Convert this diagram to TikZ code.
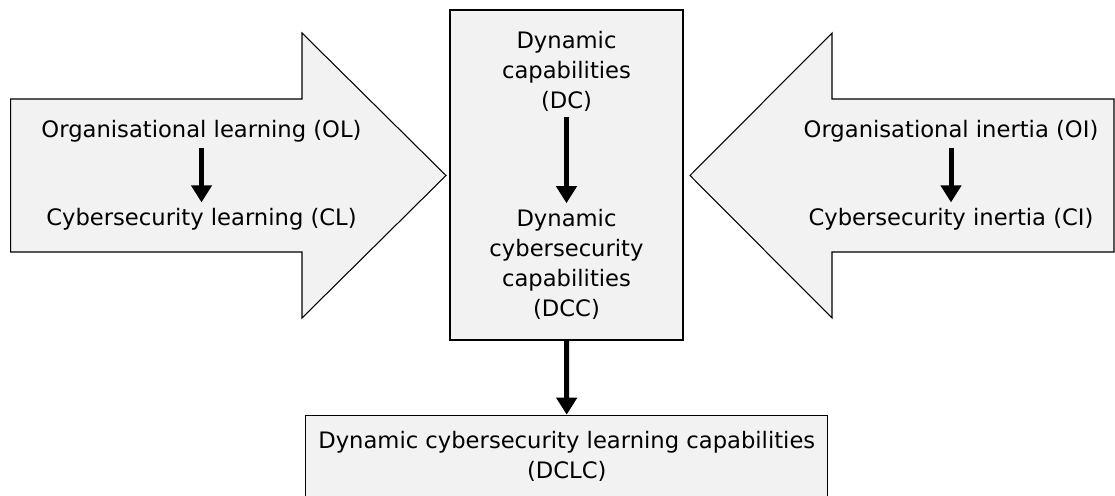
\documentclass[tikz,border=0pt]{standalone}
\usepackage{fontspec}
\setmainfont{DejaVu Sans}
\usetikzlibrary{arrows.meta}

\begin{document}
\begin{tikzpicture}[x=0.02cm, y=-0.02cm,
    txt/.style={font=\fontsize{12.9}{17.1}\selectfont, align=center, inner sep=3pt},
    flow/.style={-{Triangle[width=0.4cm, length=0.34cm]}, line width=0.1cm},
    bigarrow/.style={draw, line width=0.6pt, fill=black!5}]
    \useasboundingbox (0,0) rectangle (1115,496);
    \draw[bigarrow] (10.7,99) -- (302,99) -- (302,33) -- (446,175.5) -- (302,318) -- (302,252) -- (10.7,252) -- cycle;
    \draw[bigarrow] (1114,99) -- (832,99) -- (832,33) -- (690,175.5) -- (832,318) -- (832,252) -- (1114,252) -- cycle;
    \node[draw, line width=1.4pt, fill=black!5, minimum width=4.66cm, minimum height=6.6cm] (dccbox) at (566.5,175) {};
    \node[draw, line width=0.6pt, fill=black!5, minimum width=10.45cm, minimum height=2cm, anchor=north] (dclcbox) at (566.75,414.7) {};
    \node[txt] (ol) at (201.5,131) {Organisational learning (OL)};
    \node[txt, below of=ol, node distance=1.76cm] (cl) {Cybersecurity learning (CL)};
    \node[txt] (oi) at (951,131) {Organisational inertia (OI)};
    \node[txt, below of=oi, node distance=1.76cm] (ci) {Cybersecurity inertia (CI)};
    \node[txt] (dc) at (566.5,71) {Dynamic\\capabilities\\(DC)};
    \node[txt] (dcc) at (566.5,264) {Dynamic\\cybersecurity\\capabilities\\(DCC)};
    \node[txt] (dclc) at (566.75,456) {Dynamic cybersecurity learning capabilities\\(DCLC)};
    \draw[flow] (ol) -- (cl);
    \draw[flow] (oi) -- (ci);
    \draw[flow] (dc) -- (dcc);
    \draw[flow] (dccbox) -- (dclcbox);
\end{tikzpicture}
\end{document}
